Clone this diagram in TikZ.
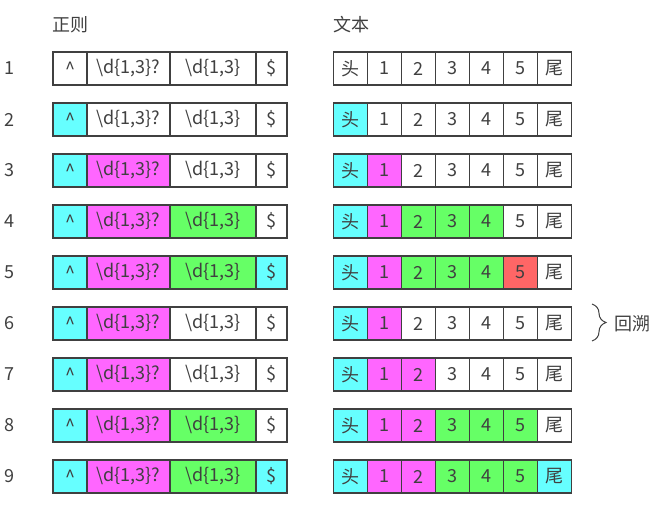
\documentclass[tikz,border=0pt]{standalone}
\usepackage{fontspec}
\setmainfont{Noto Sans CJK SC}
\usepackage{tikz}
\usepackage{xcolor}
\usetikzlibrary{decorations.pathreplacing}

\definecolor{hcy}{HTML}{66FFFF}
\definecolor{hmg}{HTML}{FF66FF}
\definecolor{hgn}{HTML}{66FF66}
\definecolor{hrd}{HTML}{FF6666}
\definecolor{ink}{HTML}{404040}

% regex row: #1 row, #2-#5 fills
\newcommand{\rerow}[5]{%
  \node (no#1) at (9.5,{68.5+51*(#1-1)}) {#1};
  \node[cell, minimum width=34pt, fill=#2] (re#1-1) at (70,{68.5+51*(#1-1)}) {\textasciicircum};
  \node[cell, minimum width=83pt, fill=#3] (re#1-2) at (128.5,{68.5+51*(#1-1)}) {\textbackslash d\{1,3\}?};
  \node[cell, minimum width=86pt, fill=#4] (re#1-3) at (213,{68.5+51*(#1-1)}) {\textbackslash d\{1,3\}};
  \node[cell, minimum width=31pt, fill=#5] (re#1-4) at (271.5,{68.5+51*(#1-1)}) {\$};
}
% text row: #1 row, #2-#8 fills
\newcommand{\txrow}[8]{%
  \foreach \f/\lab [count=\k] in {#2/头,#3/1,#4/2,#5/3,#6/4,#7/5,#8/尾}
    \node[cell, minimum width=34pt, fill=\f] (tx#1-\k) at ({350.5+34*(\k-1)},{68.5+51*(#1-1)}) {\lab};
}

\begin{document}
\begin{tikzpicture}[x=1pt, y=-1pt, font=\fontsize{18}{21}\selectfont, text=ink,
    cell/.style={draw=ink, line width=1.5pt, minimum height=33pt, inner sep=0pt, outer sep=0pt}]
    \useasboundingbox (0,0) rectangle (663,519);
    \node (hre) at (70,24.5) {正则};
    \node (htx) at (351,24.5) {文本};
    \rerow{1}{white}{white}{white}{white}
    \txrow{1}{white}{white}{white}{white}{white}{white}{white}
    \rerow{2}{hcy}{white}{white}{white}
    \txrow{2}{hcy}{white}{white}{white}{white}{white}{white}
    \rerow{3}{hcy}{hmg}{white}{white}
    \txrow{3}{hcy}{hmg}{white}{white}{white}{white}{white}
    \rerow{4}{hcy}{hmg}{hgn}{white}
    \txrow{4}{hcy}{hmg}{hgn}{hgn}{hgn}{white}{white}
    \rerow{5}{hcy}{hmg}{hgn}{hcy}
    \txrow{5}{hcy}{hmg}{hgn}{hgn}{hgn}{hrd}{white}
    \rerow{6}{hcy}{hmg}{white}{white}
    \txrow{6}{hcy}{hmg}{white}{white}{white}{white}{white}
    \rerow{7}{hcy}{hmg}{white}{white}
    \txrow{7}{hcy}{hmg}{hmg}{white}{white}{white}{white}
    \rerow{8}{hcy}{hmg}{hgn}{white}
    \txrow{8}{hcy}{hmg}{hmg}{hgn}{hgn}{hgn}{white}
    \rerow{9}{hcy}{hmg}{hgn}{hcy}
    \txrow{9}{hcy}{hmg}{hmg}{hgn}{hgn}{hgn}{hcy}
    % backtrack brace
    \coordinate (bt) at (592,304);
    \coordinate (bb) at (592,341);
    \draw[ink, line width=1pt, decorate, decoration={brace, amplitude=14pt}] (bt) -- (bb);
    \node[anchor=west, inner sep=0pt] (back) at (614,323.5) {回溯};
\end{tikzpicture}
\end{document}
